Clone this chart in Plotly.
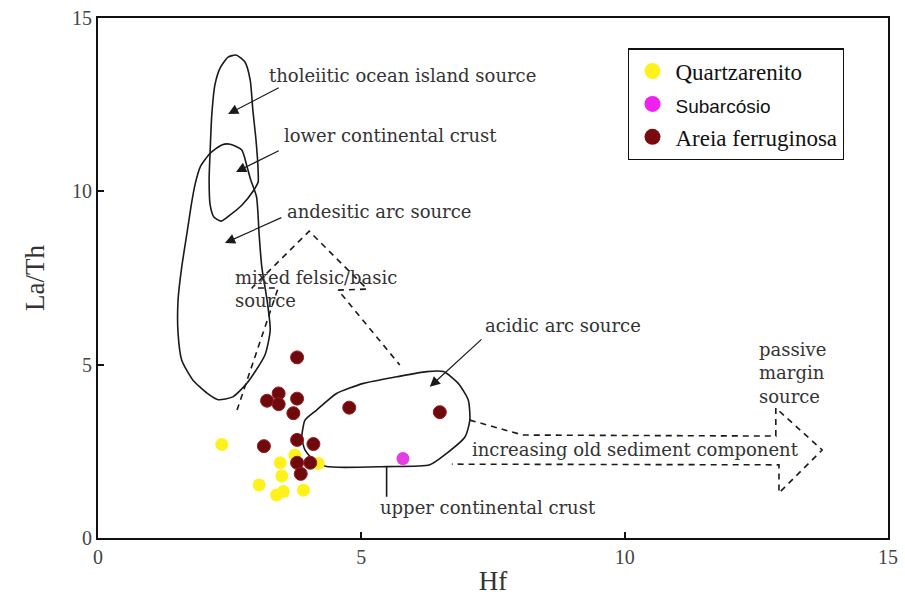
import plotly.graph_objects as go

# ---------------- sample data (Hf, La/Th) ----------------
quartz_hf = [2.35, 3.46, 3.74, 4.18, 3.49, 3.06, 3.39, 3.52, 3.90]
quartz_lath = [2.70, 2.17, 2.39, 2.15, 1.79, 1.53, 1.24, 1.34, 1.38]

subarc_hf = [5.79]
subarc_lath = [2.29]

areia_hf = [3.78, 3.43, 3.21, 3.43, 3.78, 3.71, 4.77, 6.49, 3.78, 3.15, 4.09, 3.78, 4.03, 3.85]
areia_lath = [5.21, 4.17, 3.96, 3.86, 4.02, 3.60, 3.76, 3.63, 2.83, 2.65, 2.71, 2.17, 2.17, 1.85]

# ---------------- discrimination field outlines (data units) ----------------
tholeiitic_hf = [2.62, 2.79, 2.89, 2.94, 3.00, 3.04, 3.04, 2.96, 2.73, 2.51, 2.34, 2.20, 2.13, 2.11, 2.13, 2.16, 2.22, 2.32, 2.47, 2.62]
tholeiitic_lath = [13.93, 13.73, 13.21, 12.35, 11.48, 10.61, 10.27, 10.04, 9.60, 9.32, 9.14, 9.26, 9.60, 10.33, 11.19, 12.20, 13.07, 13.56, 13.87, 13.93]

andesitic_hf = [2.51, 2.73, 2.83, 2.90, 3.01, 3.06, 3.11, 3.21, 3.27, 3.17, 2.83, 2.56, 2.28, 2.07, 1.80, 1.59, 1.52, 1.52, 1.59, 1.69, 1.77, 1.84, 1.94, 2.13, 2.35, 2.51]
andesitic_lath = [11.36, 11.19, 10.71, 10.33, 9.84, 8.74, 7.82, 6.86, 6.00, 5.28, 4.47, 4.07, 3.99, 4.18, 4.56, 5.13, 5.91, 6.86, 7.82, 8.80, 9.60, 10.18, 10.70, 11.10, 11.34, 11.36]

acidic_hf = [3.89, 3.93, 4.15, 4.53, 5.04, 5.67, 6.24, 6.56, 6.84, 7.03, 7.06, 6.97, 6.62, 6.30, 5.48, 4.34, 4.09, 3.93, 3.87, 3.89]
acidic_lath = [3.16, 3.40, 3.69, 4.17, 4.46, 4.65, 4.80, 4.80, 4.46, 3.98, 3.40, 2.92, 2.44, 2.11, 2.06, 2.06, 2.25, 2.54, 2.88, 3.16]

mixed_hf = [2.64, 3.42, 2.92, 4.01, 5.11, 4.56, 5.73]
mixed_lath = [3.69, 7.21, 7.21, 8.85, 7.18, 7.15, 4.99]

passive_hf = [7.06, 8.07, 12.87, 12.87, 13.75, 12.93, 12.93, 6.72]
passive_lath = [3.40, 2.97, 2.94, 3.75, 2.54, 1.30, 2.11, 2.13]

ucc_leader_hf = [5.48, 5.48]
ucc_leader_lath = [2.06, 1.19]

tick_vals = [0, 5, 10, 15]

SERIF = "Liberation Serif"
LBL = "DejaVu Serif"

fig = go.Figure()

def outline(xs, ys, dash="solid"):
    fig.add_trace(go.Scatter(x=xs, y=ys, mode="lines", showlegend=False, hoverinfo="skip",
                             line=dict(color="#1a1a1a", width=1.6, dash=dash, shape="spline", smoothing=0.6)))

def poly(xs, ys, dash="solid"):
    fig.add_trace(go.Scatter(x=xs, y=ys, mode="lines", showlegend=False, hoverinfo="skip",
                             line=dict(color="#1a1a1a", width=1.6, dash=dash)))

outline(tholeiitic_hf, tholeiitic_lath)
outline(andesitic_hf, andesitic_lath)
outline(acidic_hf, acidic_lath)
poly(mixed_hf, mixed_lath, dash="6px,5px")
poly(passive_hf, passive_lath, dash="6px,5px")
poly(ucc_leader_hf, ucc_leader_lath)

series = [
    ("Quartzarenito", quartz_hf, quartz_lath, "#FFF21C", "#FFF21C", "Quartzarenito"),
    ("Subarcósio", subarc_hf, subarc_lath, "#E43DE4", "#F020F0",
     '<span style="font-family:Liberation Sans;font-size:19px">Subarcósio</span>'),
    ("Areia ferruginosa", areia_hf, areia_lath, "#6E0A0E", "#7A0A10", "Areia ferruginosa"),
]

# sample points
for key, xs, ys, col, lcol, lname in series:
    fig.add_trace(go.Scatter(x=xs, y=ys, mode="markers", name=key, legendgroup=key, showlegend=False,
                             marker=dict(size=13, color=col,
                                         line=dict(width=1 if key.startswith("Areia") else 0, color="#9A1A1A"))))
# legend entries
for key, xs, ys, col, lcol, lname in series:
    fig.add_trace(go.Scatter(x=[None], y=[None], mode="markers", name=lname, legendgroup=key,
                             marker=dict(size=24, color=lcol)))

ann = []
def label(x, y, text, anchor="left"):
    ann.append(dict(x=x, y=y, xref="x", yref="y", text=text, showarrow=False,
                    xanchor=anchor, yanchor="middle", align="left",
                    font=dict(family=LBL, size=18, color="#333333")))

def arrow(tip_x, tip_y, tail_x, tail_y):
    ann.append(dict(x=tip_x, y=tip_y, ax=tail_x, ay=tail_y, xref="x", yref="y",
                    axref="x", ayref="y", text="", showarrow=True, arrowhead=2,
                    arrowsize=1.7, arrowwidth=1.2, arrowcolor="#1a1a1a"))

label(3.21, 13.35, "tholeiitic ocean island source")
label(3.49, 11.60, "lower continental crust")
label(3.55, 9.43, "andesitic arc source")
label(2.56, 7.18, "mixed felsic/basic<br>source")
label(7.31, 6.14, "acidic arc source")
label(7.06, 2.54, "increasing old sediment component")
label(12.51, 4.76, "passive<br>margin<br>source")
label(5.32, 0.87, "upper continental crust")

arrow(2.47, 12.23, 3.46, 13.01)
arrow(2.62, 10.56, 3.46, 11.19)
arrow(2.41, 8.51, 3.51, 9.26)
arrow(6.30, 4.36, 7.31, 5.77)

axis_common = dict(range=[0, 15], tickvals=tick_vals, ticks="inside", ticklen=6, tickwidth=1.5,
                   tickcolor="#111", showline=True, linewidth=2, linecolor="#111", mirror=True,
                   showgrid=False, zeroline=False, automargin=False,
                   tickfont=dict(family=SERIF, size=20, color="#444444"))

fig.update_layout(
    width=905, height=614,
    margin=dict(l=98, r=17, t=18, b=76),
    paper_bgcolor="white", plot_bgcolor="white",
    xaxis=dict(**axis_common, title=dict(text="Hf", font=dict(family=SERIF, size=27, color="#333"), standoff=4)),
    yaxis=dict(**axis_common, title=dict(text="La/Th", font=dict(family=SERIF, size=27, color="#333"), standoff=20)),
    annotations=ann,
    legend=dict(x=0.671, y=0.942, xanchor="left", yanchor="top", bgcolor="white",
                bordercolor="#111", borderwidth=1.4,
                font=dict(family=SERIF, size=23, color="#111"), itemsizing="trace",
                itemwidth=36, tracegroupgap=0),
    showlegend=True,
)

fig.write_html("out.html", config={"displayModeBar": False},
               post_script="document.body.style.margin='0';")
